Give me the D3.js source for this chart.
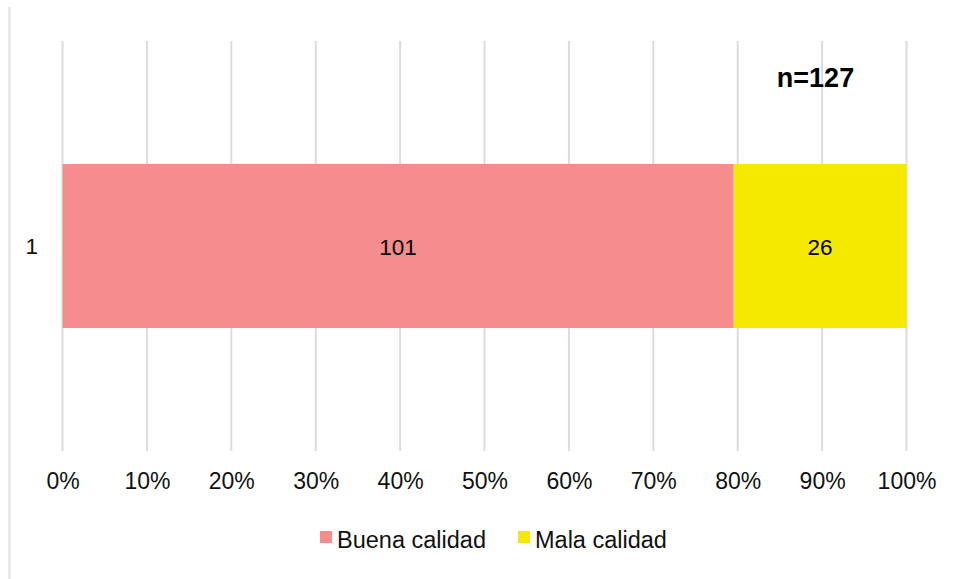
<!DOCTYPE html>
<html>
<head>
<meta charset="utf-8">
<script src="https://cdn.jsdelivr.net/npm/d3@7"></script>
<style>
  body { margin: 0; background: #fff; }
  svg { font-family: "Liberation Sans", Arial, sans-serif; }
</style>
</head>
<body>
<div id="root"></div>
<script>
// Data.
const categories = ['1'];
const seriesNames = ['Buena calidad', 'Mala calidad'];
const buena = [101];
const mala = [26];
const total = 127;
const xTicks = [0, 0.1, 0.2, 0.3, 0.4, 0.5, 0.6, 0.7, 0.8, 0.9, 1];

const colors = ['#f58d8d', '#f5e900'];

let width = 956;
let height = 579;

let svg = d3.select('#root')
  .append('svg')
  .attr('width', width)
  .attr('height', height);

// Outer chart border (only left edge visible).
svg.append('line')
  .attr('x1', 9.5).attr('x2', 9.5)
  .attr('y1', 7).attr('y2', height)
  .attr('stroke', '#e0e0e0')
  .attr('stroke-width', 2);

let xScale = d3.scaleLinear()
  .domain([0, 1])
  .range([62.5, 906.5]);

let yScale = d3.scaleBand()
  .domain(categories)
  .range([41, 451])
  .paddingInner(0.6)
  .paddingOuter(0.3);

// Gridlines
svg.append('g')
  .selectAll('line')
  .data(xTicks)
  .enter()
  .append('line')
  .attr('x1', d => xScale(d))
  .attr('x2', d => xScale(d))
  .attr('y1', 41)
  .attr('y2', 451)
  .attr('stroke', '#dcdcdc')
  .attr('stroke-width', 2);

// Stack the data as percentages
let rows = categories.map((c, i) => ({ cat: c, b: buena[i], m: mala[i] }));
let stack = d3.stack()
  .keys(['b', 'm'])
  .offset(d3.stackOffsetExpand);
let layers = stack(rows);

layers.forEach((layer, li) => {
  svg.append('g')
    .selectAll('rect')
    .data(layer)
    .enter()
    .append('rect')
    .attr('x', d => xScale(d[0]))
    .attr('width', d => xScale(d[1]) - xScale(d[0]))
    .attr('y', d => yScale(d.data.cat))
    .attr('height', yScale.bandwidth())
    .attr('fill', colors[li]);

  svg.append('g')
    .selectAll('text')
    .data(layer)
    .enter()
    .append('text')
    .attr('x', d => (xScale(d[0]) + xScale(d[1])) / 2)
    .attr('y', d => yScale(d.data.cat) + yScale.bandwidth() / 2 + 1)
    .attr('dy', '0.35em')
    .attr('text-anchor', 'middle')
    .attr('font-size', 22.5)
    .attr('fill', '#000')
    .text((d, i) => li === 0 ? buena[i] : mala[i]);
});

// X axis labels
let xAxis = d3.axisBottom(xScale)
  .tickValues(xTicks)
  .tickFormat(d3.format('.0%'))
  .tickSize(0)
  .tickPadding(0);

let gx = svg.append('g')
  .attr('transform', 'translate(0, 473)')
  .call(xAxis);
gx.select('.domain').remove();
gx.selectAll('text')
  .attr('font-size', 23)
  .attr('font-family', '"Liberation Sans", Arial, sans-serif')
  .attr('fill', '#111');

// Y axis labels
let yAxis = d3.axisLeft(yScale).tickSize(0).tickPadding(0);
let gy = svg.append('g')
  .attr('transform', 'translate(38, 1)')
  .call(yAxis);
gy.select('.domain').remove();
gy.selectAll('text')
  .attr('font-size', 22.5)
  .attr('font-family', '"Liberation Sans", Arial, sans-serif')
  .attr('fill', '#111');

// n label
svg.append('text')
  .attr('x', 815.5)
  .attr('y', 87)
  .attr('text-anchor', 'middle')
  .attr('font-size', 27)
  .attr('font-weight', 'bold')
  .attr('fill', '#000')
  .text('n=' + total);

// Legend
let legendItems = [
  { name: seriesNames[0], color: colors[0], x: 320 },
  { name: seriesNames[1], color: colors[1], x: 518 }
];
let lg = svg.append('g');
legendItems.forEach(item => {
  lg.append('rect')
    .attr('x', item.x)
    .attr('y', 531)
    .attr('width', 12)
    .attr('height', 12)
    .attr('fill', item.color);
  lg.append('text')
    .attr('x', item.x + 17)
    .attr('y', 548)
    .attr('font-size', 23.5)
    .attr('fill', '#111')
    .text(item.name);
});
</script>
</body>
</html>
